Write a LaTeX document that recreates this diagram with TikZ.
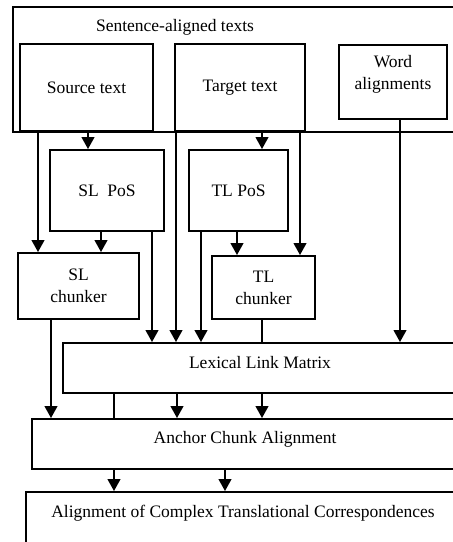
\documentclass[tikz,border=0pt]{standalone}
\usepackage{fontspec}
\setmainfont{Liberation Serif}
\usetikzlibrary{arrows.meta}
\begin{document}
\begin{tikzpicture}[x=1pt,y=-1pt,
  box/.style={draw, line width=1.8pt, inner sep=0pt, align=center, font=\fontsize{17.5}{22}\selectfont},
  txt/.style={inner sep=0pt, align=center, font=\fontsize{17.5}{22}\selectfont},
  arr/.style={line width=2.3pt, -{Triangle[width=12.5pt,length=12pt]}},
  ln/.style={line width=2.3pt}]
\useasboundingbox (0,0) rectangle (453,542);
\clip (0,0) rectangle (453,542);
\fill[white] (0,0) rectangle (453,542);
% boxes
\node[box, line width=2.5pt, minimum width=467pt, minimum height=125pt] (outer) at (246.5,69.5) {};
\node[txt] (outert) at (175,27) {Sentence-aligned texts};
\node[box, minimum width=133pt, minimum height=87pt] (src) at (86.5,87.5) {Source text};
\node[box, minimum width=130pt, minimum height=87pt] (tgt) at (240,87.5) {Target text};
\node[box, minimum width=108pt, minimum height=74pt] (word) at (393,82) {};
\node[txt] (wordt) at (393,74) {Word\\alignments};
\node[box, minimum width=114pt, minimum height=81pt] (slpos) at (107,190.5) {SL\ \ PoS};
\node[box, minimum width=99pt, minimum height=81pt] (tlpos) at (238.5,190.5) {TL PoS};
\node[box, minimum width=121pt, minimum height=66pt] (slch) at (78.5,286) {SL\\chunker};
\node[box, minimum width=103pt, minimum height=63pt] (tlch) at (263.5,287.5) {TL\\chunker};
\node[box, minimum width=395pt, minimum height=50pt] (llm) at (260.5,368) {};
\node[txt] (llmt) at (260,363) {Lexical Link Matrix};
\node[box, minimum width=426pt, minimum height=50pt] (aca) at (245,444) {};
\node[txt] (acat) at (245,439) {Anchor Chunk Alignment};
\node[box, minimum width=434pt, minimum height=88pt] (actc) at (243,536) {};
\node[txt] (actct) at (243,513) {Alignment of Complex Translational Correspondences};
% columns
\coordinate (x38) at (38,0);
\coordinate (x51) at (51,0);
\coordinate (x88) at (88,0);
\coordinate (x101) at (101,0);
\coordinate (x114) at (114,0);
\coordinate (x152) at (152,0);
\coordinate (x176) at (176,0);
\coordinate (x177) at (177,0);
\coordinate (x201) at (201,0);
\coordinate (x225) at (225,0);
\coordinate (x237) at (237,0);
\coordinate (x262) at (262,0);
\coordinate (x300) at (300,0);
\coordinate (x400) at (400,0);
% connectors
\draw[arr] (outer.south -| x38) -- (slch.north -| x38);
\draw[arr] (src.south -| x88) -- (slpos.north -| x88);
\draw[arr] (outer.south -| x176) -- (llm.north -| x176);
\draw[arr] (tgt.south -| x262) -- (tlpos.north -| x262);
\draw[arr] (outer.south -| x300) -- (tlch.north -| x300);
\draw[arr] (word.south -| x400) -- (llm.north -| x400);
\draw[arr] (slpos.south -| x101) -- (slch.north -| x101);
\draw[arr] (slpos.south -| x152) -- (llm.north -| x152);
\draw[arr] (tlpos.south -| x201) -- (llm.north -| x201);
\draw[arr] (tlpos.south -| x237) -- (tlch.north -| x237);
\draw[arr] (slch.south -| x51) -- (aca.north -| x51);
\draw[ln] (tlch.south -| x262) -- (llm.north -| x262);
\draw[ln] (llm.south -| x114) -- (aca.north -| x114);
\draw[arr] (llm.south -| x177) -- (aca.north -| x177);
\draw[arr] (llm.south -| x262) -- (aca.north -| x262);
\draw[arr] (aca.south -| x114) -- (actc.north -| x114);
\draw[arr] (aca.south -| x225) -- (actc.north -| x225);
\end{tikzpicture}
\end{document}
